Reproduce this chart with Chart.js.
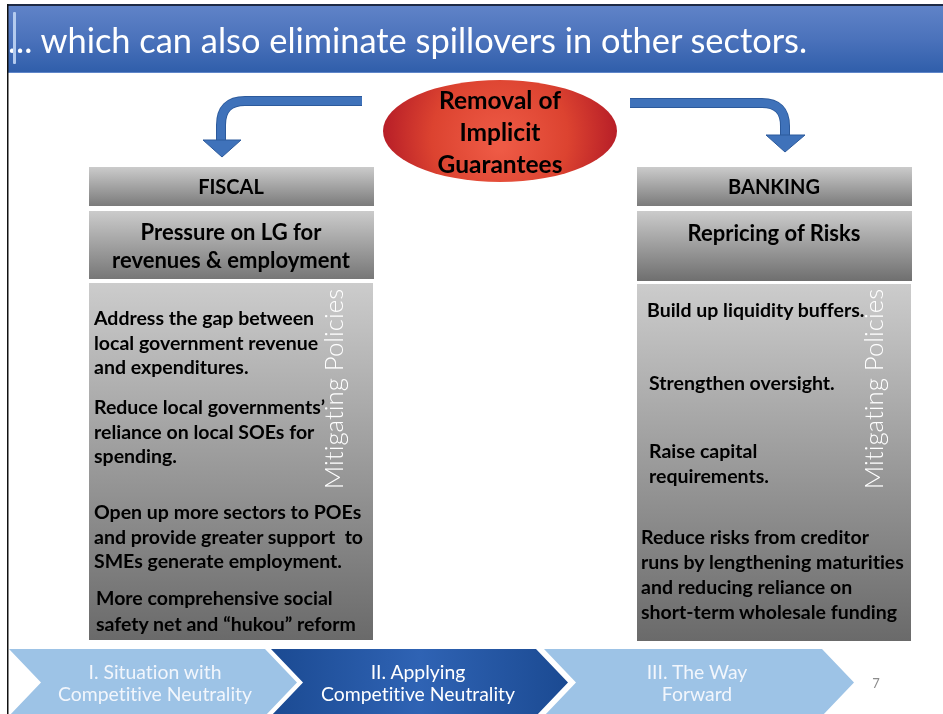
<!DOCTYPE html>
<html>
<head>
<meta charset="utf-8">
<script src="https://cdn.jsdelivr.net/npm/chart.js@4"></script>
<style>
  html, body { margin: 0; padding: 0; background: #ffffff; }
  #wrap { position: relative; width: 943px; height: 714px; overflow: hidden; font-family: Lato, "Open Sans", sans-serif; font-variant-ligatures: none; font-feature-settings: "liga" 0, "clig" 0; }
  #c { position: absolute; left: 0; top: 0; }
  .t { position: absolute; white-space: nowrap; }
  .b { font-weight: 700; color: #000; }
</style>
</head>
<body>
<div id="wrap">
  <canvas id="c" width="943" height="714"></canvas>
  <div id="txt"></div>
</div>
<script>
// ---- content ----
const titleText = "... which can also eliminate spillovers in other sectors.";
const centerLines = ["Removal of", "Implicit", "Guarantees"];
const sectorNames = ["FISCAL", "BANKING"];
const sectorEffects = [["Pressure on LG for", "revenues & employment"], ["Repricing of Risks"]];
const sideLabel = "Mitigating Policies";
const fiscalPolicies = [
  ["Address the gap between", "local government revenue", "and expenditures."],
  ["Reduce local governments\u2019", "reliance on local SOEs for", "spending."],
  ["Open up more sectors to POEs", "and provide greater support\u00a0 to", "SMEs generate employment."],
  ["More comprehensive social", "safety net and \u201chukou\u201d reform"]
];
const bankingPolicies = [
  ["Build up liquidity buffers."],
  ["Strengthen oversight."],
  ["Raise capital", "requirements."],
  ["Reduce risks from creditor", "runs by lengthening maturities", "and reducing reliance on", "short-term wholesale funding"]
];
const navSteps = [["I. Situation with", "Competitive Neutrality"], ["II. Applying", "Competitive Neutrality"], ["III. The Way", "Forward"]];
const activeStep = 1;
const pageNumber = "7";

// ---- drawing of the slide shapes through a Chart.js plugin ----
const slidePlugin = {
  id: 'slide',
  beforeDraw(chart) {
    const c = chart.ctx, X = v => chart.scales.x.getPixelForValue(v), Y = v => chart.scales.y.getPixelForValue(v);
    c.save();
    c.fillStyle = '#fff'; c.fillRect(0, 0, chart.width, chart.height);

    // title bar
    let g = c.createLinearGradient(0, Y(5), 0, Y(73));
    g.addColorStop(0, '#6083c8'); g.addColorStop(0.5, '#4b72bb'); g.addColorStop(1, '#2f5eaa');
    c.fillStyle = g; c.fillRect(X(7), Y(5), X(943) - X(7), Y(73) - Y(5));
    c.fillStyle = '#1d2a45'; c.fillRect(X(7), Y(4), X(943) - X(7), 2);
    c.fillStyle = '#5f86c9'; c.fillRect(X(7), Y(72), X(943) - X(7), 1);
    // left slide border
    c.fillStyle = '#111'; c.fillRect(X(7), Y(4), 1.5, Y(714) - Y(4));

    // arrows
    const drawArrow = (pts, head) => {
      c.lineJoin = 'round';
      c.beginPath();
      c.moveTo(X(pts[0][0]), Y(pts[0][1]));
      c.lineTo(X(pts[1][0]), Y(pts[1][1]));
      c.quadraticCurveTo(X(pts[2][0]), Y(pts[2][1]), X(pts[3][0]), Y(pts[3][1]));
      c.lineTo(X(pts[4][0]), Y(pts[4][1]));
      c.strokeStyle = '#2c5a9c'; c.lineWidth = 10; c.stroke();
      c.strokeStyle = '#3f72ba'; c.lineWidth = 8; c.stroke();
      c.beginPath();
      c.moveTo(X(head[0][0]), Y(head[0][1]));
      c.lineTo(X(head[1][0]), Y(head[1][1]));
      c.lineTo(X(head[2][0]), Y(head[2][1]));
      c.closePath();
      c.fillStyle = '#3f72ba'; c.fill();
      c.strokeStyle = '#2c5a9c'; c.lineWidth = 1; c.stroke();
    };
    drawArrow([[362, 101], [245, 101], [221, 101], [221, 125], [221, 141]], [[203, 140], [241, 140], [222, 157]]);
    drawArrow([[630, 103], [762, 103], [785, 103], [785, 126], [785, 136]], [[766, 135], [805, 135], [785, 152]]);

    // ellipse
    const ecx = X(500), ecy = Y(131);
    g = c.createRadialGradient(ecx, ecy + 15, 5, ecx, ecy, 120);
    g.addColorStop(0, '#ee5a45'); g.addColorStop(0.55, '#dc4330'); g.addColorStop(1, '#b51c27');
    c.beginPath(); c.ellipse(ecx, ecy, 117, 51, 0, 0, Math.PI * 2);
    c.fillStyle = g; c.fill();

    // gray boxes
    const box = (x0, y0, x1, y1, top, bot) => {
      const gg = c.createLinearGradient(0, Y(y0), 0, Y(y1));
      gg.addColorStop(0, top); gg.addColorStop(1, bot);
      c.fillStyle = gg; c.fillRect(X(x0), Y(y0), X(x1) - X(x0), Y(y1) - Y(y0));
    };
    box(89, 167, 374, 206, '#cbcbcb', '#7b7b7b');
    box(89, 211, 374, 279, '#cbcbcb', '#777777');
    box(89, 283, 373, 640, '#cccccc', '#6a6a6a');
    box(637, 167, 912, 206, '#cbcbcb', '#7b7b7b');
    box(637, 211, 912, 281, '#cbcbcb', '#6f6f6f');
    box(637, 284, 911, 641, '#cccccc', '#6a6a6a');

    // navigation chevrons
    const chev = (x0, x1, fill) => {
      const yt = Y(649), yb = Y(716), ym = Y(682.5), d = 32;
      c.beginPath();
      c.moveTo(X(x0), yt); c.lineTo(X(x1), yt); c.lineTo(X(x1 + d), ym);
      c.lineTo(X(x1), yb); c.lineTo(X(x0), yb); c.lineTo(X(x0 + d), ym); c.closePath();
      c.fillStyle = fill; c.fill();
    };
    chev(9, 265, '#9dc3e6');
    g = c.createLinearGradient(X(271), 0, X(568), 0);
    g.addColorStop(0, '#1b4a92'); g.addColorStop(0.5, '#2f63b4'); g.addColorStop(1, '#1b4a92');
    chev(271, 536, g);
    chev(544, 822, '#9dc3e6');
    c.restore();
  }
};

new Chart(document.getElementById('c'), {
  type: 'scatter',
  data: { datasets: [] },
  options: {
    responsive: false, animation: false, events: [],
    layout: { padding: 0 },
    plugins: { legend: { display: false }, tooltip: { enabled: false } },
    scales: {
      x: { type: 'linear', min: 0, max: 943, display: false },
      y: { type: 'linear', min: 0, max: 714, reverse: true, display: false }
    }
  },
  plugins: [slidePlugin]
});

// ---- real text overlays ----
const host = document.getElementById('txt');
function put(text, opts) {
  const d = document.createElement('div');
  d.className = 't' + (opts.bold ? ' b' : '');
  d.textContent = text;
  d.style.fontSize = opts.size + 'px';
  d.style.lineHeight = opts.lh + 'px';
  d.style.top = (opts.cy - opts.lh / 2) + 'px';
  if (opts.color) d.style.color = opts.color;
  if (opts.weight) d.style.fontWeight = opts.weight;
  if (opts.cx !== undefined) { d.style.left = (opts.cx - 250) + 'px'; d.style.width = '500px'; d.style.textAlign = 'center'; }
  else d.style.left = opts.x + 'px';
  host.appendChild(d);
  return d;
}
put(titleText, { x: 8, cy: 40, size: 34.4, lh: 42, color: '#ffffff', weight: 400 });
const hl = document.createElement('div');
hl.style.cssText = 'position:absolute;left:13px;top:12px;width:3px;height:52px;background:#b4cbee;border-radius:1px;';
host.appendChild(hl);

centerLines.forEach((s, i) => put(s, { cx: 500, cy: 100 + i * 32, size: 24.5, lh: 30, bold: true }));
put(sectorNames[0], { cx: 231, cy: 186, size: 20, lh: 24, bold: true });
put(sectorNames[1], { cx: 774, cy: 186, size: 20, lh: 24, bold: true });
sectorEffects[0].forEach((s, i) => put(s, { cx: 231, cy: 232 + i * 28, size: 22, lh: 26, bold: true }));
sectorEffects[1].forEach((s, i) => put(s, { cx: 774, cy: 233 + i * 28, size: 22, lh: 26, bold: true }));

const fTops = [318, 407, 512, 598];
fiscalPolicies.forEach((grp, gi) => grp.forEach((s, i) => put(s, { x: gi === 3 ? 96 : 94, cy: fTops[gi] + i * (gi === 3 ? 26 : 24.6), size: 19.5, lh: 24, bold: true })));
const bTops = [310, 383, 451, 537], bX = [647, 649, 649, 641];
bankingPolicies.forEach((grp, gi) => grp.forEach((s, i) => put(s, { x: bX[gi], cy: bTops[gi] + i * 25, size: 19.5, lh: 24, bold: true })));

[333, 873].forEach(cx => {
  const d = put(sideLabel, { cx: cx, cy: 389, size: 25.8, lh: 30, color: '#ffffff', weight: 300 });
  d.style.transform = 'rotate(-90deg)';
});

const navCx = [155, 418, 697];
navSteps.forEach((lines, k) => lines.forEach((s, i) => put(s, { cx: navCx[k], cy: 672 + i * 22, size: 19.4, lh: 22, color: k === activeStep ? '#ffffff' : '#f2f6fc', weight: 400 })));
put(pageNumber, { cx: 876, cy: 683, size: 13, lh: 16, color: '#8c8c8c' });
</script>
</body>
</html>
